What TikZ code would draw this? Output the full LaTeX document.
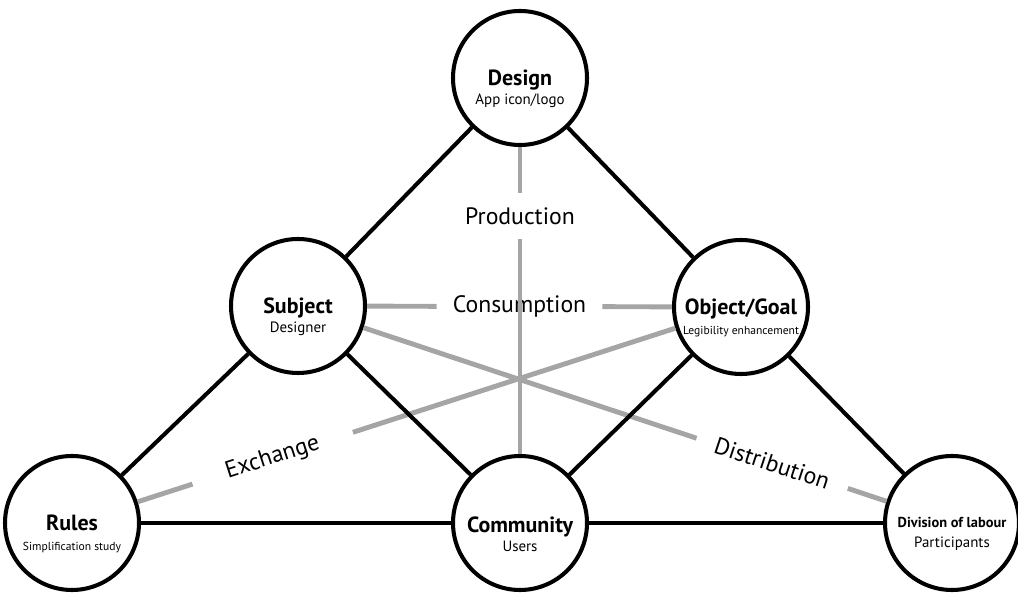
\documentclass[tikz,border=0pt]{standalone}
\usepackage{fontspec}
\setmainfont{PT Sans}

\definecolor{flowgray}{RGB}{165,165,165}

% text sizes inside the circles
\newcommand{\ttl}[1]{{\fontsize{12.5}{14}\selectfont\bfseries #1}}
\newcommand{\subtxt}[1]{{\fontsize{8.5}{10}\selectfont #1}}
\newcommand{\tinytxt}[1]{{\fontsize{6.6}{8}\selectfont #1}}

\tikzset{
    actor/.style={circle, draw=black, line width=2.3pt, minimum size=2.68cm,
        inner sep=0pt, fill=white},
    inside/.style={align=center, inner sep=0pt, yshift=-0.22cm},
    link/.style={line width=2.3pt},
    flow/.style={draw=flowgray, line width=2.8pt},
    lbl/.style={font=\fontsize{13.5}{16}\selectfont, inner ysep=2pt}
}

\begin{document}
\begin{tikzpicture}
    \useasboundingbox (0,0) rectangle (20.36,11.84);

    % Activity system nodes
    \node[actor, label={[inside]center:{\ttl{Design}\\[-1pt]\subtxt{App icon/logo}}}] (design) at (10.4,10.28) {};
    \node[actor, label={[inside]center:{\ttl{Subject}\\[-1pt]\subtxt{Designer}}}] (subject) at (5.96,5.72) {};
    \node[actor, label={[inside]center:{\ttl{Object/Goal}\\[-1pt]\tinytxt{Legibility enhancement}}}] (object) at (14.82,5.70) {};
    \node[actor, label={[inside]center:{\ttl{Rules}\\[-1pt]\tinytxt{Simplification study}}}] (rules) at (1.44,1.38) {};
    \node[actor, label={[inside]center:{\ttl{Community}\\[-1pt]\subtxt{Users}}}] (community) at (10.4,1.38) {};
    \node[actor, label={[inside]center:{{\fontsize{8.2}{10}\selectfont\bfseries Division of labour}\\[-1pt]\subtxt{Participants}}}] (division) at (19.04,1.38) {};

    % Labels of the inner relations
    \path (design.center) -- node[lbl, pos=0.31, inner xsep=4pt, inner ysep=8pt] (prod) {Production} (community.center);
    \path (subject.center) -- node[lbl, pos=0.5, inner xsep=9pt] (cons) {Consumption} (object.center);
    \path (rules.center) -- node[lbl, pos=0.30, sloped, inner xsep=20pt] (exch) {Exchange} (object.center);
    \path (subject.center) -- node[lbl, pos=0.725, sloped, inner xsep=11pt] (dist) {Distribution} (division.center);

    % Gray relation lines (broken at the labels)
    \draw[flow] (design) -- (prod);
    \draw[flow] (prod) -- (community);
    \draw[flow] (subject) -- (cons);
    \draw[flow] (cons) -- (object);
    \draw[flow] (rules) -- (exch);
    \draw[flow] (exch) -- (object);
    \draw[flow] (subject) -- (dist);
    \draw[flow] (dist) -- (division);

    % Black triangle edges
    \draw[link] (design) -- (subject);
    \draw[link] (design) -- (object);
    \draw[link] (subject) -- (rules);
    \draw[link] (subject) -- (community);
    \draw[link] (object) -- (community);
    \draw[link] (object) -- (division);
    \draw[link] (rules) -- (community);
    \draw[link] (community) -- (division);
\end{tikzpicture}
\end{document}
